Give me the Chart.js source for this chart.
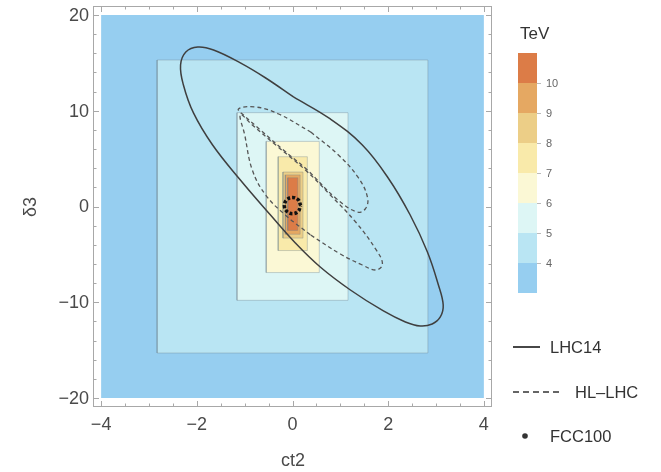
<!DOCTYPE html>
<html>
<head>
<meta charset="utf-8">
<script src="https://cdn.jsdelivr.net/npm/chart.js@4.4.1/dist/chart.umd.min.js"></script>
<style>
  html, body { margin: 0; background: #fff; }
  #wrap { width: 661px; height: 472px; position: relative; }
</style>
</head>
<body>
<div id="wrap"><canvas id="c"></canvas></div>
<script>
// Axis ticks
const xTicks = [-4, -2, 0, 2, 4];
const yTicks = [-20, -10, 0, 10, 20];
const xMinor = [-4, -3.5, -3, -2.5, -2, -1.5, -1, -0.5, 0, 0.5, 1, 1.5, 2, 2.5, 3, 3.5, 4];
const yMinor = [-20, -18, -16, -14, -12, -10, -8, -6, -4, -2, 0, 2, 4, 6, 8, 10, 12, 14, 16, 18, 20];

// Colour levels (TeV), top of bar first
const levelLabels = [10, 9, 8, 7, 6, 5, 4];
const levelColors = ['#dc7c47', '#e5a862', '#ecce87', '#f9eaaa', '#fbf8d5', '#ddf6f5', '#b9e5f3', '#96cef0'];

// Nested regions [xmin, xmax, ymin, ymax], outermost first
const regions = [
  [-4, 4, -20, 20],
  [-2.83, 2.83, -15.3, 15.3],
  [-1.16, 1.16, -9.8, 9.8],
  [-0.55, 0.56, -6.9, 6.8],
  [-0.3, 0.31, -4.6, 5.2],
  [-0.2, 0.22, -3.3, 3.6],
  [-0.15, 0.16, -2.9, 3.3],
  [-0.1, 0.11, -2.5, 3.0]
];
const regionLevel = [7, 6, 5, 4, 3, 2, 1, 0];

// Contours
const lhc14 = [
  [0.02, 11.44], [0.79, 9.14], [1.46, 6.42], [2.00, 2.98], [2.46, -0.89], [2.82, -4.75],
  [3.05, -8.20], [3.15, -10.29], [3.09, -11.54], [2.92, -12.27], [2.67, -12.48], [2.36, -12.06],
  [1.90, -10.91], [1.21, -8.72], [0.58, -6.32], [0.06, -3.81], [-0.46, -0.89], [-1.09, 2.77],
  [-1.67, 6.42], [-2.07, 9.77], [-2.28, 12.69], [-2.34, 14.78], [-2.23, 16.14], [-1.98, 16.66],
  [-1.65, 16.35], [-1.09, 15.0], [-0.56, 13.42], [0.02, 11.44]
];
const hlUpper = [
  [0.38, 7.78], [0.96, 5.38], [1.38, 2.98], [1.57, 0.89], [1.52, -0.26], [1.34, -0.57],
  [0.90, 0.89], [0.31, 3.81], [-0.19, 5.90], [-0.67, 7.99], [-1.00, 9.45], [-1.13, 10.18],
  [-0.77, 10.39], [-0.29, 9.66], [0.38, 7.78]
];
const hlLower = [
  [0.38, -2.98], [1.00, -4.96], [1.46, -6.11], [1.75, -6.63], [1.88, -6.01], [1.75, -4.54],
  [1.32, -1.62], [0.79, 1.20], [0.27, 3.81], [-0.35, 6.42], [-0.84, 8.51], [-1.09, 9.6],
  [-1.0, 7.5], [-0.84, 3.81], [-0.56, 1.20], [-0.15, -0.89], [0.38, -2.98]
];
const fcc100 = [
  [0.17, 0.1], [0.12, 0.7], [0, 0.95], [-0.12, 0.7], [-0.17, 0.1], [-0.12, -0.5],
  [0, -0.75], [0.12, -0.5], [0.17, 0.1]
];

const pts = arr => arr.map(p => ({ x: p[0], y: p[1] }));
const FONT = "'Liberation Sans', Arial, sans-serif";

const datasets = [];
regions.forEach((r, i) => {
  datasets.push({
    data: pts([[r[0], r[2]], [r[1], r[2]], [r[1], r[3]], [r[0], r[3]], [r[0], r[2]]]),
    showLine: true,
    fill: 'shape',
    backgroundColor: levelColors[regionLevel[i]],
    borderColor: i === 0 ? 'rgba(0,0,0,0)' : 'rgba(110,130,140,0.35)',
    borderWidth: 1,
    pointRadius: 0,
    tension: 0,
    order: 100 - i
  });
});
datasets.push({
  data: pts(lhc14), showLine: true, fill: false, borderColor: '#3f3f3f', borderWidth: 1.5,
  pointRadius: 0, tension: 0.4, order: 5
});
datasets.push({
  data: pts(hlUpper), showLine: true, fill: false, borderColor: '#555', borderWidth: 1.3,
  borderDash: [4, 3], pointRadius: 0, tension: 0.4, order: 4
});
datasets.push({
  data: pts(hlLower), showLine: true, fill: false, borderColor: '#555', borderWidth: 1.3,
  borderDash: [4, 3], pointRadius: 0, tension: 0.4, order: 3
});
datasets.push({
  data: pts(fcc100), showLine: true, fill: false, borderColor: '#111', borderWidth: 3.5,
  borderDash: [3, 2], pointRadius: 0, tension: 0.4, order: 1
});

// Frame, ticks, titles, colour bar and legend
const framePlugin = {
  id: 'frame',
  afterDraw(chart) {
    const { ctx, chartArea: a, scales: { x, y } } = chart;
    ctx.save();
    const line = (x1, y1, x2, y2) => { ctx.beginPath(); ctx.moveTo(x1, y1); ctx.lineTo(x2, y2); ctx.stroke(); };

    ctx.strokeStyle = '#a8a8a8';
    ctx.lineWidth = 1;
    ctx.strokeRect(a.left + 0.5, a.top + 0.5, a.width - 1, a.height - 1);

    xMinor.forEach(v => {
      const p = Math.round(x.getPixelForValue(v)) + 0.5;
      const L = xTicks.includes(v) ? 6 : 3.5;
      line(p, a.bottom, p, a.bottom - L);
      line(p, a.top, p, a.top + L);
    });
    yMinor.forEach(v => {
      const p = Math.round(y.getPixelForValue(v)) + 0.5;
      const L = yTicks.includes(v) ? 6 : 3.5;
      line(a.left, p, a.left + L, p);
      line(a.right, p, a.right - L, p);
    });

    const fmt = v => (v < 0 ? '\u2212' + Math.abs(v) : String(v));
    ctx.fillStyle = '#4a4a4a';
    ctx.font = '18px ' + FONT;
    ctx.textAlign = 'center';
    ctx.textBaseline = 'middle';
    xTicks.forEach(v => ctx.fillText(fmt(v), x.getPixelForValue(v), 425));
    ctx.textAlign = 'right';
    yTicks.forEach(v => ctx.fillText(fmt(v), 89, y.getPixelForValue(v) + 1));

    // axis titles
    ctx.textAlign = 'center';
    ctx.fillText('ct2', 293, 461);
    ctx.save();
    ctx.translate(31, 207);
    ctx.rotate(-Math.PI / 2);
    ctx.fillText('\u03b43', 0, 0);
    ctx.restore();

    // colour bar
    const cbX = 518, cbW = 19, cbTop = 53, step = 30;
    levelColors.forEach((c, i) => {
      ctx.fillStyle = c;
      ctx.fillRect(cbX, cbTop + i * step, cbW, step);
    });
    ctx.strokeStyle = '#bbb';
    ctx.fillStyle = '#666';
    ctx.font = '11px ' + FONT;
    ctx.textAlign = 'left';
    levelLabels.forEach((v, i) => {
      const yy = cbTop + (i + 1) * step + 0.5;
      line(cbX + cbW, yy, cbX + cbW + 4, yy);
      ctx.fillText(String(v), 546, yy);
    });
    ctx.fillStyle = '#333';
    ctx.font = '17px ' + FONT;
    ctx.fillText('TeV', 520, 34);

    // legend
    ctx.font = '16.5px ' + FONT;
    ctx.fillStyle = '#333';
    ctx.strokeStyle = '#333';
    ctx.lineWidth = 1.8;
    line(513, 347, 540, 347);
    ctx.fillText('LHC14', 550, 348);
    ctx.setLineDash([6, 4]);
    ctx.lineWidth = 1.4;
    line(513, 392, 563, 392);
    ctx.setLineDash([]);
    ctx.fillText('HL\u2013LHC', 575, 393);
    ctx.beginPath();
    ctx.arc(525, 436, 2.8, 0, Math.PI * 2);
    ctx.fill();
    ctx.fillText('FCC100', 550, 437);
    ctx.restore();
  }
};

new Chart(document.getElementById('c'), {
  type: 'scatter',
  data: { datasets },
  options: {
    responsive: true,
    maintainAspectRatio: false,
    animation: false,
    layout: { padding: { left: 93, top: 6, right: 169, bottom: 65 } },
    scales: {
      x: { type: 'linear', min: -4.17, max: 4.17, display: false },
      y: { type: 'linear', min: -20.94, max: 20.94, display: false }
    },
    plugins: { legend: { display: false }, tooltip: { enabled: false } }
  },
  plugins: [framePlugin]
});
</script>
</body>
</html>
